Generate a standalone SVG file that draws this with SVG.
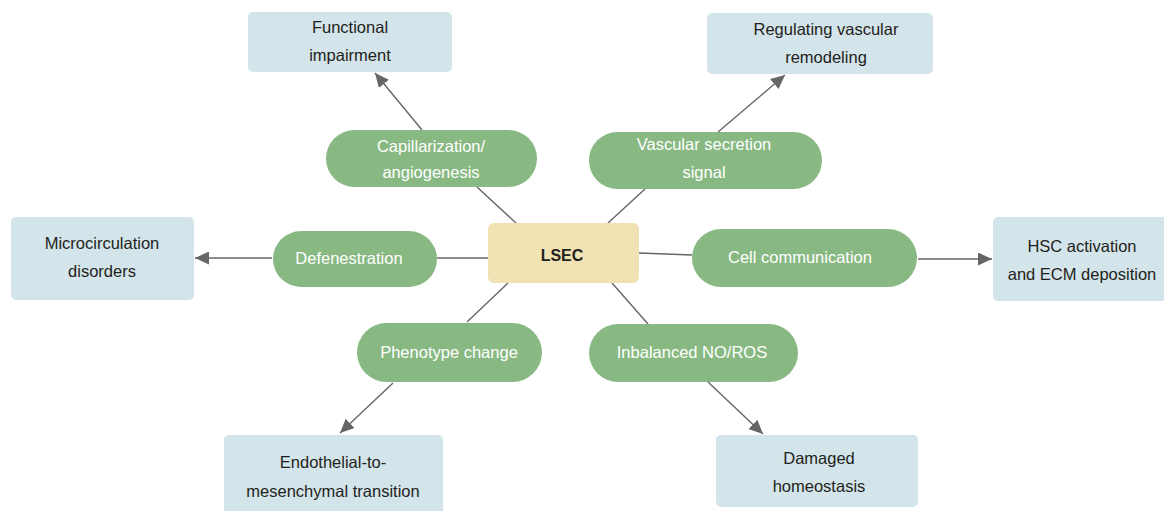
<svg xmlns="http://www.w3.org/2000/svg" width="1164" height="511" viewBox="0 0 1164 511">
<style>
.out{fill:#d3e4ea}
.pill{fill:#88b983}
.center{fill:#f0e2b3}
.t{font-family:"Liberation Sans",Arial,sans-serif;font-size:16.5px;text-anchor:middle;fill:#231f20}
.w{fill:#ffffff}
.b{font-weight:bold;font-size:16px}
.ln{stroke:#666;stroke-width:1.4;fill:none}
</style>
<defs>
<marker id="ah" markerUnits="userSpaceOnUse" markerWidth="15" markerHeight="13" refX="14" refY="6.5" orient="auto">
<path d="M0,0 L14,6.5 L0,13 Z" fill="#666"/>
</marker>
</defs>
<rect width="1164" height="511" fill="#ffffff"/>
<g id="connectors">
<line class="ln" x1="422" y1="130" x2="375" y2="73" marker-end="url(#ah)"/>
<line class="ln" x1="718" y1="132" x2="785" y2="75" marker-end="url(#ah)"/>
<line class="ln" x1="272" y1="258" x2="195" y2="258" marker-end="url(#ah)"/>
<line class="ln" x1="918" y1="259" x2="992" y2="259" marker-end="url(#ah)"/>
<line class="ln" x1="393" y1="383" x2="340" y2="433" marker-end="url(#ah)"/>
<line class="ln" x1="708" y1="382" x2="763" y2="434" marker-end="url(#ah)"/>
<line class="ln" x1="516" y1="223" x2="477" y2="187"/>
<line class="ln" x1="608" y1="223" x2="645" y2="189"/>
<line class="ln" x1="488" y1="258" x2="437" y2="258"/>
<line class="ln" x1="639" y1="253" x2="692" y2="255"/>
<line class="ln" x1="508" y1="283" x2="467" y2="322"/>
<line class="ln" x1="612" y1="283" x2="648" y2="324"/>
</g>
<g id="functional">
<rect class="out" x="248" y="12" width="204" height="60" rx="5"/>
<text class="t" x="350" y="33">Functional</text>
<text class="t" x="350" y="61">impairment</text>
</g>
<g id="regulating">
<rect class="out" x="707" y="13" width="226" height="61" rx="5"/>
<text class="t" x="826" y="35">Regulating vascular</text>
<text class="t" x="826" y="63">remodeling</text>
</g>
<g id="microcirculation">
<rect class="out" x="11" y="217" width="183" height="83" rx="5"/>
<text class="t" x="102" y="249">Microcirculation</text>
<text class="t" x="102" y="277">disorders</text>
</g>
<g id="hsc">
<rect class="out" x="993" y="217" width="176" height="84" rx="5"/>
<text class="t" x="1082" y="252">HSC activation</text>
<text class="t" x="1082" y="280">and ECM deposition</text>
</g>
<g id="endothelial">
<rect class="out" x="224" y="435" width="219" height="82" rx="5"/>
<text class="t" x="333" y="468">Endothelial-to-</text>
<text class="t" x="333" y="497">mesenchymal transition</text>
</g>
<g id="damaged">
<rect class="out" x="716" y="435" width="202" height="72" rx="5"/>
<text class="t" x="819" y="464">Damaged</text>
<text class="t" x="819" y="492">homeostasis</text>
</g>
<g id="capillarization">
<rect class="pill" x="326" y="130" width="211" height="57" rx="28.5"/>
<text class="t w" x="431" y="152">Capillarization/</text>
<text class="t w" x="431" y="178">angiogenesis</text>
</g>
<g id="vascular">
<rect class="pill" x="589" y="132" width="233" height="57" rx="28.5"/>
<text class="t w" x="704" y="150">Vascular secretion</text>
<text class="t w" x="704" y="178">signal</text>
</g>
<g id="defenestration">
<rect class="pill" x="273" y="231" width="164" height="56" rx="28"/>
<text class="t w" x="349" y="264">Defenestration</text>
</g>
<g id="cell">
<rect class="pill" x="692" y="229" width="225" height="58" rx="29"/>
<text class="t w" x="800" y="263">Cell communication</text>
</g>
<g id="phenotype">
<rect class="pill" x="357" y="323" width="185" height="59" rx="29.5"/>
<text class="t w" x="449" y="358">Phenotype change</text>
</g>
<g id="inbalanced">
<rect class="pill" x="589" y="324" width="209" height="58" rx="29"/>
<text class="t w" x="692" y="358">Inbalanced NO/ROS</text>
</g>
<g id="lsec">
<rect class="center" x="488" y="223" width="151" height="60" rx="6"/>
<text class="t b" x="562" y="261">LSEC</text>
</g>
</svg>
